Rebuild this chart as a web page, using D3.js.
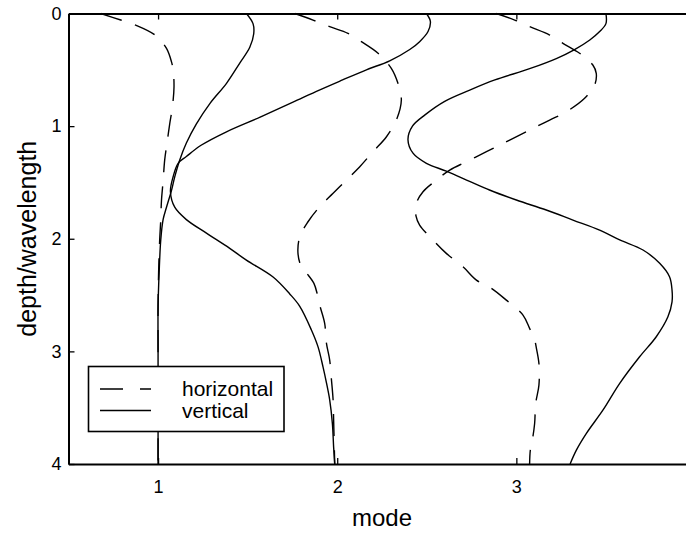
<!DOCTYPE html>
<html>
<head>
<meta charset="utf-8">
<script src="https://cdn.jsdelivr.net/npm/d3@7/dist/d3.min.js"></script>
<style>
	body { margin: 0; background: #fff; }
	svg { display: block; font-family: Arial, "Liberation Sans", Helvetica, sans-serif; }
</style>
</head>
<body>
<div id="data-viz"></div>
<script>

// depth/wavelength samples
var hDepth1 = [0, 0.06, 0.10, 0.19, 0.31, 0.43, 0.50, 0.65, 0.83, 0.98, 1.15, 1.30, 1.49, 1.66, 1.83, 2.01, 2.30, 2.60, 3.00, 3.50, 4.00]
var hMode1  = [0.68, 0.796, 0.870, 0.982, 1.047, 1.075, 1.084, 1.089, 1.080, 1.065, 1.050, 1.037, 1.028, 1.019, 1.015, 1.009, 1.003, 1.0, 1.0, 1.0, 1.0]

var hDepth2 = [0, 0.058, 0.117, 0.176, 0.25, 0.353, 0.487, 0.62, 0.768, 0.946, 1.094, 1.227, 1.36, 1.479, 1.597, 1.716, 1.849, 1.982, 2.13, 2.249, 2.307, 2.396, 2.50, 2.604, 2.751, 2.929, 3.077, 3.255, 3.43, 3.61, 4.0]
var hMode2  = [1.763, 1.865, 1.958, 2.06, 2.135, 2.228, 2.302, 2.339, 2.358, 2.330, 2.275, 2.20, 2.126, 2.051, 1.977, 1.902, 1.837, 1.791, 1.781, 1.80, 1.83, 1.87, 1.89, 1.905, 1.930, 1.940, 1.958, 1.968, 1.977, 1.980, 1.986]

var hDepth3 = [0, 0.058, 0.117, 0.191, 0.265, 0.353, 0.457, 0.531, 0.635, 0.753, 0.872, 0.946, 1.02, 1.079, 1.168, 1.227, 1.316, 1.39, 1.479, 1.583, 1.686, 1.80, 1.878, 2.027, 2.13, 2.249, 2.367, 2.44, 2.545, 2.678, 2.796, 2.9, 2.973, 3.107, 3.30, 3.462, 3.64, 3.79, 3.877, 4.0]
var hMode3  = [2.888, 2.991, 3.074, 3.186, 3.26, 3.353, 3.427, 3.446, 3.437, 3.381, 3.279, 3.186, 3.093, 3.018, 2.907, 2.833, 2.721, 2.628, 2.554, 2.479, 2.442, 2.44, 2.46, 2.544, 2.609, 2.702, 2.777, 2.861, 2.944, 3.037, 3.074, 3.102, 3.112, 3.126, 3.126, 3.108, 3.102, 3.089, 3.078, 3.074]

var vDepth1 = [0, 0.09, 0.18, 0.30, 0.44, 0.62, 0.80, 0.98, 1.15, 1.30, 1.45, 1.57, 1.72, 1.83, 2.01, 2.30, 2.60, 3.00, 3.50, 4.00]
var vMode1  = [1.493, 1.530, 1.534, 1.512, 1.456, 1.382, 1.289, 1.214, 1.158, 1.121, 1.093, 1.075, 1.047, 1.028, 1.015, 1.006, 1.0, 1.0, 1.0, 1.0]

var vDepth2 = [0, 0.07, 0.16, 0.25, 0.32, 0.42, 0.50, 0.59, 0.68, 0.79, 0.92, 1.05, 1.17, 1.27, 1.33, 1.45, 1.58, 1.72, 1.83, 1.95, 2.085, 2.19, 2.34, 2.49, 2.60, 2.81, 2.96, 3.14, 3.28, 3.43, 3.64, 3.85, 4.0]
var vMode2  = [2.498, 2.520, 2.507, 2.460, 2.405, 2.293, 2.163, 2.030, 1.900, 1.750, 1.570, 1.382, 1.240, 1.158, 1.112, 1.084, 1.069, 1.093, 1.158, 1.270, 1.40, 1.493, 1.642, 1.735, 1.791, 1.856, 1.893, 1.921, 1.940, 1.958, 1.973, 1.980, 1.986]

var vDepth3 = [0, 0.09, 0.16, 0.235, 0.32, 0.40, 0.49, 0.59, 0.68, 0.78, 0.90, 1.00, 1.12, 1.24, 1.33, 1.40, 1.49, 1.567, 1.656, 1.745, 1.834, 1.923, 2.01, 2.10, 2.218, 2.337, 2.456, 2.56, 2.693, 2.87, 3.048, 3.284, 3.52, 3.728, 3.877, 4.0]
var vMode3  = [3.50, 3.50, 3.465, 3.41, 3.325, 3.223, 3.074, 2.88, 2.74, 2.60, 2.49, 2.42, 2.395, 2.423, 2.498, 2.609, 2.739, 2.85, 3.00, 3.167, 3.316, 3.465, 3.577, 3.707, 3.80, 3.855, 3.869, 3.869, 3.846, 3.781, 3.688, 3.577, 3.484, 3.391, 3.335, 3.30]

var xTicks = [1, 2, 3]
var yTicks = [0, 1, 2, 3, 4]
var legendLabels = ["horizontal", "vertical"]

var app = {

	settings: {},

	init: () => {

		app.settings.width = 686
		app.settings.height = 535
		app.settings.dash = "22,14"

		app.series = [
			{ type: "horizontal", depth: hDepth1, value: hMode1 },
			{ type: "horizontal", depth: hDepth2, value: hMode2 },
			{ type: "horizontal", depth: hDepth3, value: hMode3 },
			{ type: "vertical", depth: vDepth1, value: vMode1 },
			{ type: "vertical", depth: vDepth2, value: vMode2 },
			{ type: "vertical", depth: vDepth3, value: vMode3 }
		]

		app.create()

	},

	create: () => {

		var s = app.settings

		// the figure is cropped on the right, so the x axis runs past the edge
		app.x = d3.scaleLinear().domain([0.5, 4]).range([68.5, 695.5])
		app.y = d3.scaleLinear().domain([0, 4]).range([13.5, 464])

		app.svg = d3.select("#data-viz").append("svg")
			.attr("width", s.width)
			.attr("height", s.height)

		app.drawCurves()
		app.drawAxes()
		app.drawLegend()

	},

	drawCurves: () => {

		var line = d3.line()
			.x(d => app.x(d[1]))
			.y(d => app.y(d[0]))
			.curve(d3.curveCatmullRom)

		app.svg.append("g").selectAll("path")
			.data(app.series)
			.join("path")
			.attr("d", d => line(d.depth.map((v, i) => [v, d.value[i]])))
			.attr("fill", "none")
			.attr("stroke", "#000")
			.attr("stroke-width", 1.4)
			.attr("stroke-dasharray", d => d.type == "horizontal" ? app.settings.dash : null)

	},

	drawAxes: () => {

		var bottom = app.svg.append("g")
			.attr("transform", `translate(0,${app.y(4)})`)
			.call(d3.axisBottom(app.x).tickValues(xTicks).tickFormat(d3.format("d"))
				.tickSizeInner(-6).tickSizeOuter(0).tickPadding(16))

		var top = app.svg.append("g")
			.attr("transform", `translate(0,${app.y(0)})`)
			.call(d3.axisTop(app.x).tickValues(xTicks).tickFormat("")
				.tickSizeInner(-6).tickSizeOuter(0))

		var left = app.svg.append("g")
			.attr("transform", `translate(${app.x(0.5)},0)`)
			.call(d3.axisLeft(app.y).tickValues(yTicks).tickFormat(d3.format("d"))
				.tickSizeInner(-6).tickSizeOuter(0).tickPadding(7))

		var right = app.svg.append("g")
			.attr("transform", `translate(${app.x(4)},0)`)
			.call(d3.axisRight(app.y).tickValues(yTicks).tickFormat("")
				.tickSizeInner(-6).tickSizeOuter(0))

		app.svg.selectAll(".domain")
			.attr("stroke", "#000")
			.attr("stroke-width", 2)

		app.svg.selectAll(".tick line")
			.attr("stroke", "#000")
			.attr("stroke-width", 1.3)

		app.svg.selectAll(".tick text")
			.attr("fill", "#000")
			.style("font-size", "18px")

		app.svg.append("text")
			.attr("x", (app.x(0.5) + app.x(4)) / 2)
			.attr("y", 526)
			.attr("text-anchor", "middle")
			.style("font-size", "24px")
			.text("mode")

		app.svg.append("text")
			.attr("transform", `translate(36,${(app.y(0) + app.y(4)) / 2}) rotate(-90)`)
			.attr("text-anchor", "middle")
			.style("font-size", "25px")
			.text("depth/wavelength")

	},

	drawLegend: () => {

		var g = app.svg.append("g")

		g.append("rect")
			.attr("x", 88.5)
			.attr("y", 366.5)
			.attr("width", 195.5)
			.attr("height", 65)
			.attr("fill", "#fff")
			.attr("stroke", "#000")
			.attr("stroke-width", 1.6)

		var rows = g.selectAll(".row")
			.data(legendLabels)
			.join("g")
			.attr("class", "row")
			.attr("transform", (d, i) => `translate(0,${389 + i * 21.5})`)

		rows.append("line")
			.attr("x1", 100)
			.attr("x2", 151)
			.attr("stroke", "#000")
			.attr("stroke-width", 1.4)
			.attr("stroke-dasharray", (d, i) => i == 0 ? "23,17" : null)

		rows.append("text")
			.attr("x", 182)
			.attr("y", 7)
			.style("font-size", "21px")
			.text(d => d)

	}

}

app.init()

</script>
</body>
</html>
